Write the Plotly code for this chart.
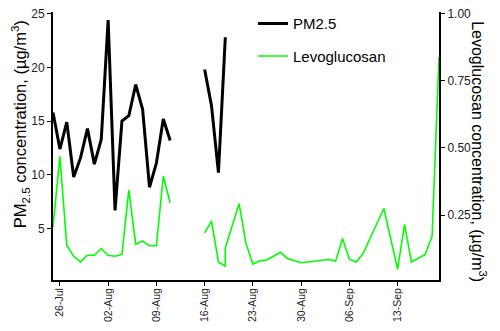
import plotly.graph_objects as go

# PM2.5 (left axis, ug/m3)
pm_dates = ["2019-07-25", "2019-07-26", "2019-07-27", "2019-07-28", "2019-07-29", "2019-07-30",
            "2019-07-31", "2019-08-01", "2019-08-02", "2019-08-03", "2019-08-04", "2019-08-05",
            "2019-08-06", "2019-08-07", "2019-08-08", "2019-08-09", "2019-08-10", "2019-08-11",
            "2019-08-14",
            "2019-08-16", "2019-08-17", "2019-08-18", "2019-08-19"]
pm_values = [15.8, 12.4, 14.9, 9.8, 11.6, 14.3, 11.0, 13.3, 24.4, 6.7, 15.0, 15.5,
             18.4, 16.1, 8.85, 11.1, 15.2, 13.2,
             None,
             19.8, 16.4, 10.2, 22.8]

# Levoglucosan (right axis, ug/m3)
levo_dates = ["2019-07-25", "2019-07-26", "2019-07-27", "2019-07-28", "2019-07-29", "2019-07-30",
              "2019-07-31", "2019-08-01", "2019-08-02", "2019-08-03", "2019-08-04", "2019-08-05",
              "2019-08-06", "2019-08-07", "2019-08-08", "2019-08-09", "2019-08-10", "2019-08-11",
              "2019-08-14",
              "2019-08-16", "2019-08-17", "2019-08-18", "2019-08-19", "2019-08-19", "2019-08-21",
              "2019-08-22", "2019-08-23", "2019-08-24", "2019-08-25", "2019-08-27", "2019-08-28",
              "2019-08-30", "2019-09-03", "2019-09-04", "2019-09-05", "2019-09-06", "2019-09-07",
              "2019-09-08", "2019-09-11", "2019-09-13", "2019-09-14", "2019-09-15", "2019-09-17",
              "2019-09-18", "2019-09-19"]
levo_values = [0.206, 0.469, 0.138, 0.097, 0.076, 0.101, 0.101, 0.126, 0.101, 0.097, 0.104, 0.343,
               0.142, 0.154, 0.136, 0.136, 0.395, 0.296,
               None,
               0.184, 0.228, 0.076, 0.060, 0.128, 0.293,
               0.145, 0.068, 0.080, 0.083, 0.112, 0.089,
               0.073, 0.085, 0.079, 0.163, 0.086, 0.076,
               0.108, 0.275, 0.049, 0.216, 0.076, 0.104,
               0.172, 0.839]

x_ticks = ["2019-07-26", "2019-08-02", "2019-08-09", "2019-08-16", "2019-08-23",
           "2019-08-30", "2019-09-06", "2019-09-13"]
left_ticks = [5, 10, 15, 20, 25]
right_ticks = [0.25, 0.50, 0.75, 1.00]

font = "Liberation Sans, Arial, sans-serif"

fig = go.Figure()
fig.add_trace(go.Scatter(x=pm_dates, y=pm_values, mode="lines", name="PM2.5",
                         line=dict(color="black", width=3), legendgroup="a"))
fig.add_trace(go.Scatter(x=levo_dates, y=levo_values, mode="lines", name="Levoglucosan",
                         line=dict(color="#00ff00", width=1.6), yaxis="y2", legendgroup="b"))

axis_common = dict(showline=True, linecolor="black", linewidth=2, ticks="outside",
                   ticklen=4, tickwidth=1.3, tickcolor="black", showgrid=False, zeroline=False,
                   ticklabeloverflow="allow",
                   tickfont=dict(family=font, size=12, color="#222"))

# page body keeps its default 8px margin, so the figure is 8px smaller each way
fig.update_layout(
    width=492, height=323,
    margin=dict(l=45, r=61, t=4, b=51, autoexpand=False),
    plot_bgcolor="white", paper_bgcolor="white",
    font=dict(family=font, color="black"),
    xaxis=dict(type="date", range=["2019-07-25", "2019-09-19"], tickvals=x_ticks,
               tickformat="%d-%b", tickangle=-90, ticklabelstandoff=-2,
               **{**axis_common, "tickfont": dict(family=font, size=10.5, color="#222")}),
    yaxis=dict(range=[0.22, 25.15], tickvals=left_ticks, **axis_common),
    yaxis2=dict(range=[0.0088, 1.006], tickvals=right_ticks, tickformat=".2f",
                overlaying="y", side="right", **axis_common),
    legend=dict(x=0.518, y=1.018, xanchor="left", yanchor="top", bgcolor="rgba(0,0,0,0)",
                font=dict(family=font, size=15), tracegroupgap=10),
    showlegend=True,
    annotations=[
        dict(text="PM<sub>2.5</sub> concentration, (µg/m<sup>3</sup>)", textangle=-90,
             xref="paper", yref="paper", x=-0.085, y=0.582, xanchor="center", yanchor="middle",
             showarrow=False, font=dict(family=font, size=16.5)),
        dict(text="Levoglucosan concentration, (µg/m<sup>3</sup>)", textangle=90,
             xref="paper", yref="paper", x=1.103, y=0.478, xanchor="center", yanchor="middle",
             showarrow=False, font=dict(family=font, size=16)),
    ],
)

fig.write_html("out.html")
